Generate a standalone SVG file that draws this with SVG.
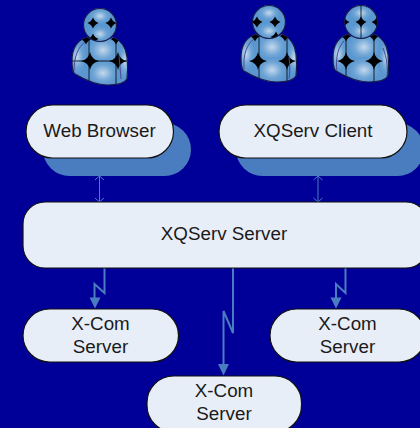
<svg xmlns="http://www.w3.org/2000/svg" width="420" height="428" viewBox="0 0 420 428">
<style>
.node{fill:#e8eef8;stroke:#111;stroke-width:1.2}
.shadow{fill:#4a7cc0}
.label{font-family:"Liberation Sans",Arial,sans-serif;font-size:18.800px;fill:#1a1a1a;text-anchor:middle}
.thin{fill:none;stroke:#4a7cc0;stroke-width:1}
.bolt{fill:none;stroke:#4a7cc0;stroke-width:2}
.head{fill:#4a7cc0}
.outline{fill:none;stroke:#1a1a4a;stroke-width:1.200}
.seam{fill:none;stroke:#4a4a96;stroke-width:1}
.div{fill:none;stroke:#000;stroke-width:.8}
</style>
<defs>
<radialGradient id="blob"><stop offset="0" stop-color="#c4d8ec"/><stop offset="0.6" stop-color="#6fa5d6"/><stop offset="1" stop-color="#5a96cf"/></radialGradient>
<path id="star" d="M0-9Q1.500-1.500 9 0Q1.500 1.500 0 9Q-1.500 1.500-9 0Q-1.500-1.500 0-9Z" fill="#000"/>
<path id="sm" d="M0-5.500Q1.500-1.500 5.500 0Q1.500 1.500 0 5.500Q-1.500 1.500-5.500 0Q-1.500-1.500 0-5.500Z" fill="#000"/>
<clipPath id="bodyClip"><path d="M-13 12C-22 15-28 22-28 36C-28 42-28 47-25 49C-15 55-5 60 8 60C17 60 24 59 27 54C28 46 28 40 27 32C26 22 20 15 13 12C8 17-8 17-13 12Z"/></clipPath>
<clipPath id="headClip"><circle r="16.500"/></clipPath>
<g id="body">
<path d="M-13 12C-22 15-28 22-28 36C-28 42-28 47-25 49C-15 55-5 60 8 60C17 60 24 59 27 54C28 46 28 40 27 32C26 22 20 15 13 12C8 17-8 17-13 12Z" fill="#5a96cf"/>
<g clip-path="url(#bodyClip)">
<ellipse cx="3" cy="25" rx="16" ry="14" fill="url(#blob)"/>
<ellipse cx="3" cy="48" rx="16" ry="13" fill="url(#blob)"/>
<ellipse cx="-23" cy="32" rx="9" ry="17" fill="url(#blob)"/>
<ellipse cx="25" cy="36" rx="7" ry="17" fill="url(#blob)"/>
</g>
</g>
<g id="headball">
<circle r="16.500" fill="#5a96cf"/>
<ellipse cy="-9" rx="11" ry="8" fill="url(#blob)"/>
<ellipse cy="9" rx="11" ry="8" fill="url(#blob)"/>
</g>
</defs>
<rect width="420" height="428" fill="#000099"/>
<g id="user-1" transform="translate(100 25)">
<use href="#body"/>
<g clip-path="url(#bodyClip)">
<path class="div" d="M-28 36H28M-11 14V60M16 14V60"/>
<use href="#star" x="-10" y="36"/><use href="#star" x="18" y="36"/><use href="#sm" x="-14" y="14"/><use href="#sm" x="16" y="14"/>
</g>
<path class="seam" d="M-26 46C-26 32-22 22-15 17M19 30C20 38 20 46 21 54"/>
<path class="outline" d="M-13 12C-22 15-28 22-28 36C-28 42-28 47-25 49C-15 55-5 60 8 60C17 60 24 59 27 54C28 46 28 40 27 32C26 22 20 15 13 12"/>
<use href="#headball"/>
<g clip-path="url(#headClip)"><use href="#sm" x="-7" y="-2"/><use href="#sm" x="11" y="-2"/><use href="#sm" x="-7" y="14"/></g>
<circle r="16.500" class="outline"/>
</g>
<g id="user-2" transform="translate(269 22)">
<use href="#body"/>
<g clip-path="url(#bodyClip)">
<path class="div" d="M-10 14V60M18 14V60"/>
<use href="#star" x="-11" y="39"/><use href="#star" x="18" y="39"/><use href="#sm" x="-14" y="14"/><use href="#sm" x="16" y="14"/>
</g>
<path class="seam" d="M-25 47C-26 32-22 22-15 17M20 35C21 44 21 50 20 57"/>
<path class="outline" d="M-13 12C-22 15-28 22-28 36C-28 42-28 47-25 49C-15 55-5 60 8 60C17 60 24 59 27 54C28 46 28 40 27 32C26 22 20 15 13 12"/>
<use href="#headball"/>
<g clip-path="url(#headClip)"><use href="#sm" x="-12" y="0"/><use href="#sm" x="6" y="0"/><use href="#sm" x="7" y="15"/></g>
<circle r="16.500" class="outline"/>
</g>
<g id="user-3" transform="translate(361 22)">
<use href="#body"/>
<g clip-path="url(#bodyClip)">
<path class="div" d="M-15 14V60M13 14V60"/>
<use href="#star" x="-15" y="39"/><use href="#star" x="13" y="39"/><use href="#sm" x="-15" y="14"/><use href="#sm" x="13" y="14"/>
</g>
<path class="seam" d="M-24 50C-26 34-22 24-17 19M22 26C26 36 27 46 26 56"/>
<path class="outline" d="M-13 12C-22 15-28 22-28 36C-28 42-28 47-25 49C-15 55-5 60 8 60C17 60 24 59 27 54C28 46 28 40 27 32C26 22 20 15 13 12"/>
<use href="#headball"/>
<g clip-path="url(#headClip)"><path class="div" d="M0-17V17"/><use href="#sm" x="0" y="0"/><use href="#sm" x="-17" y="0"/><use href="#sm" x="16" y="0"/></g>
<circle r="16.500" class="outline"/>
</g>
<g id="connectors">
<path class="thin" d="M99.500 176V202M95 180L99.500 176L104 180M95 198L99.500 202L104 198"/>
<path class="thin" d="M318 176V202M313.500 180L318 176L322.500 180M313.500 198L318 202L322.500 198"/>
<path class="bolt" d="M104.500 268V293L94.500 284V299"/><path class="head" d="M89.500 297.500H100.500L95 308.500Z"/>
<path class="bolt" d="M233 268V333L223.500 311V365"/><path class="head" d="M218 364H229L223.500 375.500Z"/>
<path class="bolt" d="M345.500 268V293L336 284V299"/><path class="head" d="M330.500 297.500H341.500L336 308.500Z"/>
</g>
<g id="web-browser">
<rect class="shadow" x="43" y="123" width="148" height="53" rx="26.500"/>
<rect class="node" x="26" y="105" width="147.500" height="53" rx="26.500"/>
<text class="label" x="99.500" y="137">Web Browser</text>
</g>
<g id="xqserv-client">
<rect class="shadow" x="236" y="123" width="188" height="53" rx="26.500"/>
<rect class="node" x="219" y="105" width="188" height="53" rx="26.500"/>
<text class="label" x="313" y="137">XQServ Client</text>
</g>
<g id="xqserv-server">
<rect class="node" x="23" y="202" width="405" height="66" rx="22"/>
<text class="label" x="224" y="240">XQServ Server</text>
</g>
<g id="x-com-1">
<rect class="node" x="23" y="309" width="155.500" height="53" rx="26.500"/>
<text class="label" x="100.500" y="330">X-Com</text>
<text class="label" x="100.500" y="353">Server</text>
</g>
<g id="x-com-3">
<rect class="node" x="270" y="309" width="155.500" height="53" rx="26.500"/>
<text class="label" x="347.500" y="330">X-Com</text>
<text class="label" x="347.500" y="353">Server</text>
</g>
<g id="x-com-2">
<rect class="node" x="147" y="376" width="154.500" height="56" rx="26.500"/>
<text class="label" x="224" y="397">X-Com</text>
<text class="label" x="224" y="420">Server</text>
</g>
</svg>
